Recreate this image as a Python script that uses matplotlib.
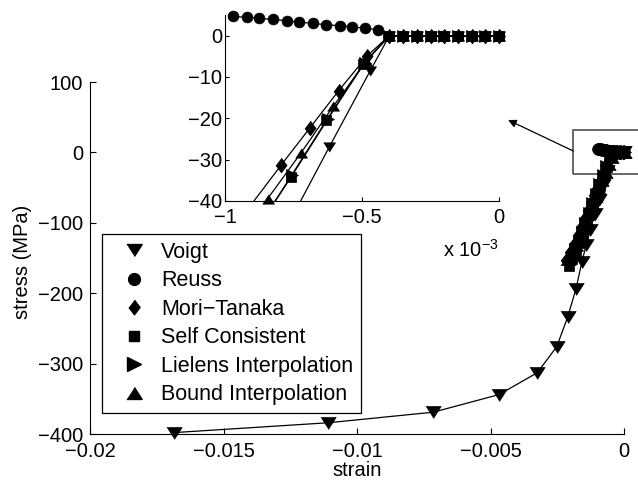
import numpy as np
import matplotlib
matplotlib.use('Agg')
import matplotlib.pyplot as plt
from matplotlib.lines import Line2D
from matplotlib.patches import Rectangle

plt.rcParams['font.family'] = ['Liberation Sans', 'DejaVu Sans']
plt.rcParams['mathtext.fontset'] = 'custom'
plt.rcParams['mathtext.rm'] = 'Liberation Sans'
plt.rcParams['font.size'] = 14.5

# strain in units of 1e-3, stress in MPa
voigt_strain = [0, -0.05, -0.10, -0.15, -0.20, -0.25, -0.30, -0.35, -0.40,
                -0.47, -0.62, -0.78, -0.94, -1.10, -1.26, -1.42, -1.58, -1.80,
                -2.11, -2.52, -3.25, -4.68, -7.14, -11.07, -16.84]
voigt_stress = [0, 0, 0, 0, 0, 0, 0, 0, 0,
                -8.5, -27, -47, -67, -88, -110, -132, -156, -194,
                -234, -276, -313, -344, -369, -384, -398]

reuss_strain = [0, -0.05, -0.10, -0.15, -0.20, -0.25, -0.30, -0.35, -0.40,
                -0.44, -0.49, -0.535, -0.58, -0.63, -0.68, -0.73, -0.775,
                -0.825, -0.875, -0.92, -0.97]
reuss_stress = [0, 0, 0, 0, 0, 0, 0, 0, 0,
                1.37, 1.85, 2.09, 2.41, 2.65, 2.97, 3.29, 3.61,
                3.94, 4.18, 4.42, 4.66]

mt_strain = [0, -0.05, -0.10, -0.15, -0.20, -0.25, -0.30, -0.35, -0.40,
             -0.48, -0.585, -0.69, -0.795, -0.90, -1.01, -1.12, -1.24,
             -1.36, -1.48, -1.61, -1.74, -1.88, -2.02, -2.17]
mt_stress = [0, 0, 0, 0, 0, 0, 0, 0, 0,
             -4.8, -13.3, -22.3, -31.3, -40.5, -50, -60, -71,
             -82, -94, -106, -118, -130, -142, -153]

sc_strain = [0, -0.05, -0.10, -0.15, -0.20, -0.25, -0.30, -0.35, -0.40,
             -0.495, -0.63, -0.76, -0.89, -1.02, -1.15, -1.28, -1.41,
             -1.54, -1.67, -1.80, -1.93, -2.06]
sc_stress = [0, 0, 0, 0, 0, 0, 0, 0, 0,
             -6.8, -20.5, -34.1, -47.5, -61, -75, -89, -103,
             -116, -129, -141, -152, -162]

lielens_strain = [0, -0.05, -0.10, -0.15, -0.20, -0.25, -0.30, -0.35, -0.40,
                  -0.49, -0.625, -0.755, -0.885, -1.015, -1.145, -1.275,
                  -1.405, -1.535, -1.665, -1.795, -1.925]
lielens_stress = [0, 0, 0, 0, 0, 0, 0, 0, 0,
                  -6.5, -20.2, -33.8, -47, -60.5, -74, -88,
                  -101, -114, -127, -139, -150]

bound_strain = [0, -0.05, -0.10, -0.15, -0.20, -0.25, -0.30, -0.35, -0.40,
                -0.485, -0.605, -0.723, -0.844, -0.965, -1.085, -1.21,
                -1.335, -1.46, -1.59, -1.72, -1.85, -1.98, -2.11]
bound_stress = [0, 0, 0, 0, 0, 0, 0, 0, 0,
                -6.2, -17.1, -28.4, -39.4, -50.5, -61.5, -73,
                -84.5, -96, -108, -120, -131, -142, -152]

labels = ['Voigt', 'Reuss', 'Mori\u2212Tanaka', 'Self Consistent',
          'Lielens Interpolation', 'Bound Interpolation']

main_xticks = [-0.02, -0.015, -0.01, -0.005, 0]
main_xticklabels = ['\u22120.02', '\u22120.015', '\u22120.01', '\u22120.005', '0']
main_yticks = [-400, -300, -200, -100, 0, 100]
main_yticklabels = ['\u2212400', '\u2212300', '\u2212200', '\u2212100', '0', '100']
inset_xticks = [-1, -0.5, 0]
inset_xticklabels = ['\u22121', '\u22120.5', '0']
inset_yticks = [-40, -30, -20, -10, 0]
inset_yticklabels = ['\u221240', '\u221230', '\u221220', '\u221210', '0']

# flat-ish triangles like the matlab ones
tri_down = [(-1, 0.78), (1, 0.78), (0, -0.78)]
tri_up = [(-1, -0.78), (1, -0.78), (0, 0.78)]
diamond = [(0, 1), (0.76, 0), (0, -1), (-0.76, 0)]

series = [
  (voigt_strain, voigt_stress, tri_down, 11, 8.6),
  (reuss_strain, reuss_stress, 'o', 8.5, 7.8),
  (mt_strain, mt_stress, diamond, 10.5, 10.6),
  (sc_strain, sc_stress, 's', 6.5, 6.8),
  (lielens_strain, lielens_stress, '>', 10, 8.8),
  (bound_strain, bound_stress, tri_up, 11, 8.6),
]

fig = plt.figure(figsize=(6.38, 4.82), dpi=100)
ax = fig.add_axes([90/638, 48/482, 534/638, 352/482])

# draw voigt last so its line sits on top of the band
for strain, stress, mk, ms, _ in series[1:] + series[:1]:
  x = np.array(strain) * 1e-3
  ax.plot(x, stress, color='k', lw=0.9, marker=mk, ms=ms, mfc='k', mec='k',
          mew=0.5, clip_on=False)

ax.set_xlim(-0.02, 0)
ax.set_ylim(-400, 100)
ax.set_xticks(main_xticks)
ax.set_xticklabels(main_xticklabels)
ax.set_yticks(main_yticks)
ax.set_yticklabels(main_yticklabels)
ax.spines['top'].set_visible(False)
ax.spines['right'].set_visible(False)
for s in ['left', 'bottom']:
  ax.spines[s].set_linewidth(0.8)
ax.tick_params(direction='in', length=4, width=0.8, labelsize=14.5)
ax.tick_params(axis='y', pad=5)
ax.tick_params(axis='x', pad=6)
ax.set_xlabel('strain')
ax.set_ylabel('stress (MPa)')
ax.xaxis.set_label_coords(0.5, -0.078)
ax.yaxis.set_label_coords(-0.108, 0.49)

# zoom box and arrow pointing to the inset
rect = Rectangle((-0.0019, -30.7), 0.0025, 62.5, fill=False, ec='0.3', lw=1.2,
                 clip_on=False)
ax.add_patch(rect)
ax.annotate('', xy=(-0.00434, 46), xytext=(-0.0019, 2),
            arrowprops=dict(arrowstyle='-|>', color='k', lw=0.9,
                            mutation_scale=12, shrinkA=0, shrinkB=0),
            annotation_clip=False)

handles = [Line2D([], [], ls='none', color='k', marker=mk, ms=ms, mec='k')
           for _, _, mk, ms, _ in series]
leg = ax.legend(handles, labels, loc='upper left', bbox_to_anchor=(0.022, 0.568),
                borderaxespad=0, frameon=True, fancybox=False, framealpha=1,
                edgecolor='k', fontsize=15.5, handlelength=2.3, handletextpad=0.1,
                borderpad=0.35, labelspacing=0.35)
leg.get_frame().set_linewidth(0.9)

# inset
ins = fig.add_axes([225/638, 281/482, 274/638, 186/482])
ins.set_xlim(-1, 0)
ins.set_ylim(-40, 5)
for strain, stress, mk, _, ms_in in series:
  x = np.array(strain)
  y = np.array(stress)
  ins.plot(x, y, color='k', lw=0.9)
  keep = (x >= -1) & (y >= -40)
  ins.plot(x[keep], y[keep], ls='none', marker=mk, ms=ms_in, mfc='k', mec='k',
           mew=0.5, clip_on=False)

ins.set_xticks(inset_xticks)
ins.set_xticklabels(inset_xticklabels)
ins.set_yticks(inset_yticks)
ins.set_yticklabels(inset_yticklabels)
ins.spines['top'].set_visible(False)
ins.spines['right'].set_visible(False)
for s in ['left', 'bottom']:
  ins.spines[s].set_linewidth(0.8)
ins.tick_params(direction='in', length=3, width=0.8, labelsize=14.5)
ins.tick_params(axis='x', pad=5)
ins.tick_params(axis='y', pad=2)
ins.text(1.0, -0.3, 'x 10$^{-3}$', transform=ins.transAxes, ha='right',
         va='baseline', fontsize=14.5)

fig.savefig('out.png', dpi=100)
